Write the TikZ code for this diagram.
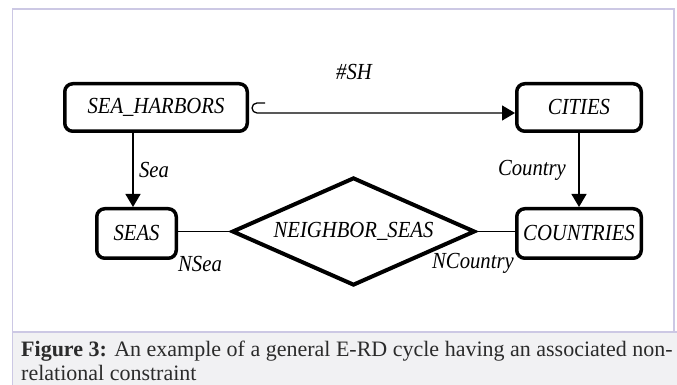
\documentclass[tikz,border=0pt]{standalone}
\usepackage{fontspec}
\setmainfont{Liberation Serif}
\newfontfamily\erfont[FakeStretch=0.9]{Liberation Serif}
\usetikzlibrary{arrows.meta,shapes.geometric}
\definecolor{frame}{HTML}{CCC8E4}
\definecolor{capbg}{HTML}{F1F1F3}
\definecolor{captext}{HTML}{2B2B2B}
\newcommand{\erlabel}{\erfont\itshape\fontsize{23}{25}\selectfont}

\begin{document}
\begin{tikzpicture}[x=1pt,y=1pt,>={Triangle[length=13pt,width=15pt]},
entity/.style={draw,line width=3.5pt,rounded corners=8pt,fill=white,inner sep=0pt,minimum height=47.5pt,font=\erlabel},
relship/.style={draw,diamond,aspect=2.24,line width=4pt,inner sep=0pt,minimum width=243pt,minimum height=108pt,font=\erlabel},
link/.style={line width=1.3pt},
role/.style={inner sep=0pt,font=\erlabel}]
\useasboundingbox (0,0) rectangle (677,385);

% frame and caption band
\fill[white] (0,0) rectangle (677,385);
\fill[capbg] (12.5,0) rectangle (677,53);
\draw[frame,line width=1.2pt] (12.5,0) -- (12.5,376) -- (674,376) -- (674,53);
\draw[frame,line width=1.2pt] (12.5,53) -- (677,53);

% entities and relationship
\node[entity,minimum width=182.5pt] (sh) at (156,277.5) {SEA\_HARBORS};
\node[entity,minimum width=124.5pt] (ci) at (579,277.5) {CITIES};
\node[entity,minimum width=79.5pt,minimum height=49.5pt] (ss) at (136.5,151.5) {SEAS};
\node[entity,minimum width=124.5pt,minimum height=49.5pt] (co) at (579,151.5) {COUNTRIES};
\node[relship] (ns) at (353.5,153.5) {NEIGHBOR\_SEAS};

% connectors
\draw[link,->] ([shift={(16pt,4.5pt)}]sh.east) -- ++(-8pt,0) arc[start angle=90,end angle=270,radius=5pt] -- ([yshift=-5.5pt]ci.west);
\draw[link,->] ([xshift=-23pt]sh.south) coordinate (s0) -- (s0 |- ss.north);
\draw[link,->] (ci.south) -- (co.north);
\draw[link] (ns.west -| ss.east) -- (ns.west);
\draw[link] (ns.east) -- (ns.east -| co.west);

% attribute labels
\node[role] (lsh) at (354,313) {\#SH};
\node[role] (lsea) at (154,215) {Sea};
\node[role] (lco) at (532,215) {Country};
\node[role] (lnsea) at (200,121) {NSea};
\node[role] (lnco) at (473,122) {NCountry};

\node[anchor=north west,inner sep=0pt,align=left,text=captext,font=\fontsize{22}{24}\selectfont] (cap) at (21,44){\textbf{Figure 3:} An example of a general E-RD cycle having an associated non-\\relational constraint};
\end{tikzpicture}
\end{document}
